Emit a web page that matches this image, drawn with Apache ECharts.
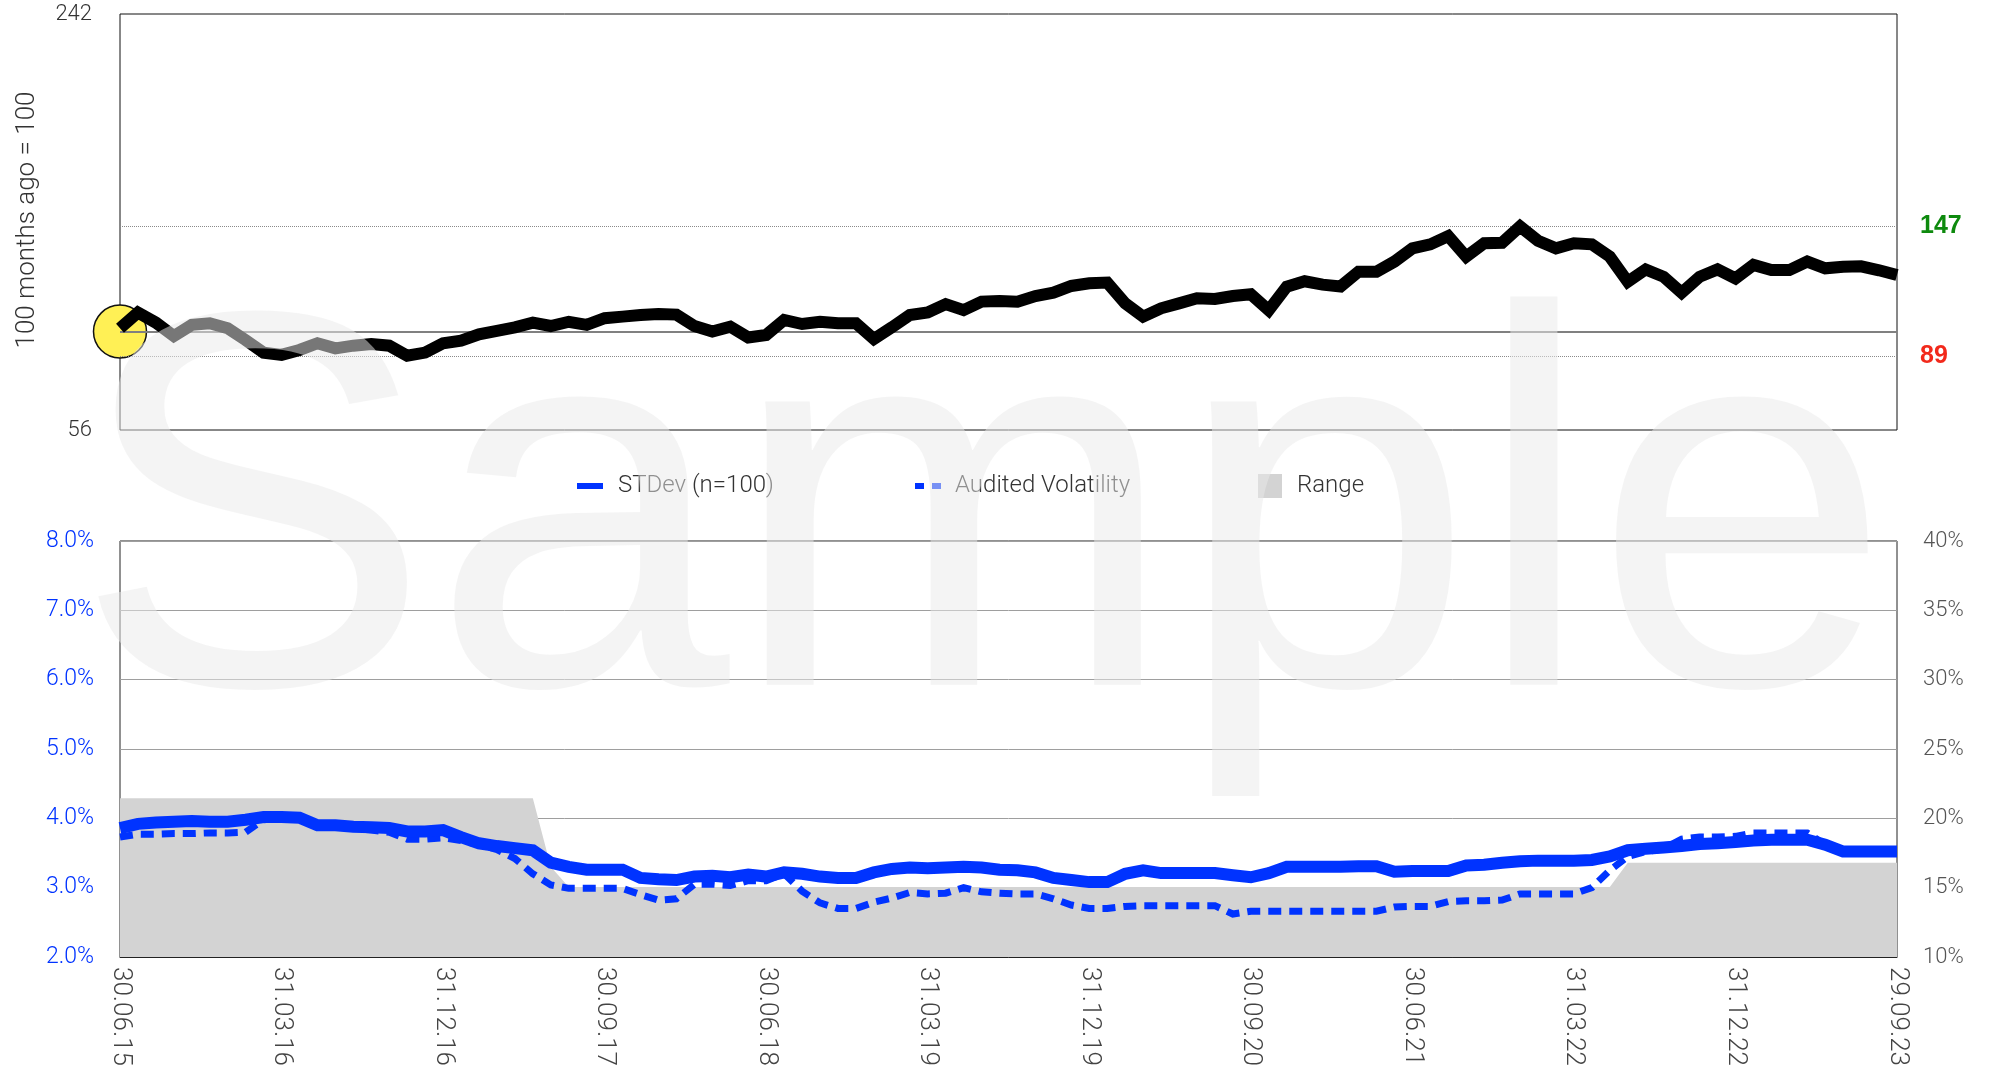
<!DOCTYPE html>
<html>
<head>
<meta charset="utf-8">
<script src="https://cdn.jsdelivr.net/npm/echarts@6/dist/echarts.min.js"></script>
<style>
html,body{margin:0;padding:0;background:#fff;}
#chart{width:1989px;height:1078px;}
</style>
</head>
<body>
<div id="chart"></div>
<script>
const categories = [
"30.06.15","31.07.15","31.08.15","30.09.15","31.10.15","30.11.15","31.12.15",
"31.01.16","29.02.16","31.03.16","30.04.16","31.05.16","30.06.16","31.07.16","31.08.16","30.09.16","31.10.16","30.11.16","31.12.16",
"31.01.17","28.02.17","31.03.17","30.04.17","31.05.17","30.06.17","31.07.17","31.08.17","30.09.17","31.10.17","30.11.17","31.12.17",
"31.01.18","28.02.18","31.03.18","30.04.18","31.05.18","30.06.18","31.07.18","31.08.18","30.09.18","31.10.18","30.11.18","31.12.18",
"31.01.19","28.02.19","31.03.19","30.04.19","31.05.19","30.06.19","31.07.19","31.08.19","30.09.19","31.10.19","30.11.19","31.12.19",
"31.01.20","29.02.20","31.03.20","30.04.20","31.05.20","30.06.20","31.07.20","31.08.20","30.09.20","31.10.20","30.11.20","31.12.20",
"31.01.21","28.02.21","31.03.21","30.04.21","31.05.21","30.06.21","31.07.21","31.08.21","30.09.21","31.10.21","30.11.21","31.12.21",
"31.01.22","28.02.22","31.03.22","30.04.22","31.05.22","30.06.22","31.07.22","31.08.22","30.09.22","31.10.22","30.11.22","31.12.22",
"31.01.23","28.02.23","31.03.23","30.04.23","31.05.23","30.06.23","31.07.23","31.08.23","29.09.23"
];

const indexValues = [
101.5,108.5,104,98,103,103.7,101.5,96.2,90.6,89.6,
91.8,94.8,92.5,93.7,94.4,93.7,89.2,90.6,94.8,95.9,
98.8,100.3,101.9,104,102.5,104.4,103,106,106.7,107.4,
107.9,107.6,102.5,100,102.2,97.4,98.5,105.2,103.4,104.4,
103.7,103.7,96.7,101.9,107.4,108.6,112.3,109.6,113.4,113.7,
113.4,115.9,117.4,120.4,121.6,121.9,112.6,106.7,110.4,112.6,
114.9,114.6,115.9,116.7,109.6,120.1,122.5,121,120.2,126.8,
126.8,131.3,137.2,139,142.7,133.5,139.5,139.7,147,140.6,
137.2,139.5,139,133.5,122.3,127.8,124.5,117.4,124.5,127.8,
123.8,129.8,127.5,127.5,131.3,128.3,129,129.2,127.4,125.3
];

const stdevValues = [
3.86,3.92,3.94,3.95,3.96,3.95,3.95,3.98,4.02,4.02,
4.01,3.9,3.9,3.88,3.87,3.86,3.81,3.81,3.83,3.73,
3.64,3.6,3.57,3.54,3.36,3.3,3.26,3.26,3.26,3.14,
3.12,3.11,3.16,3.17,3.15,3.19,3.16,3.22,3.2,3.16,
3.14,3.14,3.22,3.27,3.29,3.28,3.29,3.3,3.29,3.26,
3.25,3.22,3.14,3.11,3.08,3.08,3.2,3.25,3.21,3.21,
3.21,3.21,3.18,3.15,3.21,3.3,3.3,3.3,3.3,3.31,
3.31,3.23,3.24,3.24,3.24,3.32,3.33,3.36,3.38,3.39,
3.39,3.39,3.4,3.45,3.54,3.56,3.58,3.6,3.63,3.64,
3.66,3.68,3.69,3.69,3.69,3.62,3.52,3.52,3.52,3.52
];

const auditedValues = [
3.73,3.77,3.77,3.78,3.78,3.79,3.79,3.8,3.98,4.0,
4.0,3.88,3.88,3.86,3.83,3.8,3.7,3.7,3.72,3.68,
3.62,3.55,3.42,3.2,3.04,2.99,2.99,2.99,2.99,2.9,
2.82,2.84,3.05,3.05,3.03,3.1,3.1,3.2,2.95,2.78,
2.7,2.7,2.79,2.85,2.93,2.91,2.92,3.0,2.94,2.92,
2.91,2.91,2.84,2.75,2.7,2.7,2.73,2.74,2.74,2.74,
2.74,2.74,2.62,2.66,2.66,2.66,2.66,2.66,2.66,2.66,
2.66,2.72,2.73,2.73,2.8,2.81,2.81,2.82,2.91,2.91,
2.91,2.91,3.0,3.25,3.45,3.52,3.56,3.7,3.73,3.73,
3.74,3.79,3.79,3.79,3.79,3.62,3.52,3.52,3.52,3.52
];

const rangeValues = [
4.29,4.29,4.29,4.29,4.29,4.29,4.29,4.29,4.29,4.29,
4.29,4.29,4.29,4.29,4.29,4.29,4.29,4.29,4.29,4.29,
4.29,4.29,4.29,4.29,3.3,3.01,3.01,3.01,3.01,3.01,
3.01,3.01,3.01,3.01,3.01,3.01,3.01,3.01,3.01,3.01,
3.01,3.01,3.01,3.01,3.01,3.01,3.01,3.01,3.01,3.01,
3.01,3.01,3.01,3.01,3.01,3.01,3.01,3.01,3.01,3.01,
3.01,3.01,3.01,3.01,3.01,3.01,3.01,3.01,3.01,3.01,
3.01,3.01,3.01,3.01,3.01,3.01,3.01,3.01,3.01,3.01,
3.01,3.01,3.01,3.01,3.36,3.36,3.36,3.36,3.36,3.36,
3.36,3.36,3.36,3.36,3.36,3.36,3.36,3.36,3.36,3.36
];

const baseLevel = [100];
const highLowLevels = [147, 89];
const topAxisLabels = [56, 242];
const leftPctRange = [2, 8];
const rightPctRange = [10, 40];
const seriesNames = ["STDev (n=100)", "Audited Volatility", "Range"];

const FONT = 'Roboto, "Liberation Sans", sans-serif';
const BLUE = '#0033ff';

const chart = echarts.init(document.getElementById('chart'), null, {renderer: 'canvas'});

const option = {
  animation: false,
  textStyle: {fontFamily: FONT},
  grid: [
    {left: 120, right: 92, top: 14, bottom: 648, show: true, borderColor: '#111', borderWidth: 1, backgroundColor: 'transparent'},
    {left: 120, right: 92, top: 541, bottom: 121, show: true, borderColor: '#222', borderWidth: 1, backgroundColor: 'transparent'}
  ],
  legend: [
    {left: 572, top: 469, itemWidth: 26, itemHeight: 6, icon: 'rect',
     data: [{name: seriesNames[0], itemStyle: {color: BLUE, borderWidth: 0}}],
     textStyle: {fontSize: 24, color: '#333', fontWeight: 300, fontFamily: FONT, padding: [0, 0, 0, 10]}},
    {left: 910, top: 469, itemWidth: 26, itemHeight: 6,
     icon: 'path://M0,0H9V6H0Z M17,0H26V6H17Z',
     data: [{name: seriesNames[1], itemStyle: {color: BLUE, borderWidth: 0}}],
     textStyle: {fontSize: 24, color: '#333', fontWeight: 300, fontFamily: FONT, padding: [0, 0, 0, 9]}},
    {left: 1253, top: 469, itemWidth: 24, itemHeight: 24, icon: 'rect',
     data: [{name: seriesNames[2], itemStyle: {color: '#d3d3d3', borderWidth: 0}}],
     textStyle: {fontSize: 24, color: '#333', fontWeight: 300, fontFamily: FONT, padding: [0, 0, 0, 10]}}
  ],
  xAxis: [
    {type: 'category', gridIndex: 0, data: categories, boundaryGap: false,
     axisLine: {show: false}, axisTick: {show: false}, axisLabel: {show: false}, splitLine: {show: false}},
    {type: 'category', gridIndex: 1, data: categories, boundaryGap: false,
     axisLine: {show: true, lineStyle: {color: '#222', width: 1}}, axisTick: {show: false},
     axisLabel: {interval: 8, rotate: -90, margin: 10, fontSize: 26, color: '#444', fontWeight: 300, fontFamily: FONT},
     splitLine: {show: false}}
  ],
  yAxis: [
    {type: 'value', gridIndex: 0, min: topAxisLabels[0], max: topAxisLabels[1], interval: topAxisLabels[1] - topAxisLabels[0],
     axisLine: {show: false}, axisTick: {show: false}, splitLine: {show: false},
     axisLabel: {customValues: topAxisLabels, margin: 28, fontSize: 22, color: '#333', fontWeight: 300, fontFamily: FONT}},
    {type: 'value', gridIndex: 1, position: 'left', min: leftPctRange[0], max: leftPctRange[1], interval: 1,
     axisLine: {show: false}, axisTick: {show: false},
     splitLine: {show: true, lineStyle: {color: '#9e9e9e', width: 1}},
     axisLabel: {margin: 26, fontSize: 23, color: BLUE, fontWeight: 300, fontFamily: FONT,
       formatter: v => v.toFixed(1) + '%'}},
    {type: 'value', gridIndex: 1, position: 'right', min: rightPctRange[0], max: rightPctRange[1], interval: 5,
     axisLine: {show: false}, axisTick: {show: false}, splitLine: {show: false},
     axisLabel: {margin: 26, fontSize: 22, color: '#555', fontWeight: 300, fontFamily: FONT,
       formatter: v => v + '%'}}
  ],
  series: [
    {type: 'scatter', name: 'start', xAxisIndex: 0, yAxisIndex: 0, data: [[0, baseLevel[0]]],
     symbolSize: 53, clip: false, z: 1, silent: true,
     itemStyle: {color: '#fff055', borderColor: '#111', borderWidth: 1.5, opacity: 1}},
    {type: 'line', name: 'Index', xAxisIndex: 0, yAxisIndex: 0, data: indexValues,
     symbol: 'none', z: 3, silent: true,
     lineStyle: {color: '#000', width: 12, join: 'miter', miterLimit: 10, cap: 'butt'},
     markLine: {
       silent: true, symbol: 'none', z: 2,
       data: [
         {yAxis: baseLevel[0], lineStyle: {color: '#808080', width: 2, type: 'solid'}, label: {show: false}},
         {yAxis: highLowLevels[0], lineStyle: {color: '#8a8a8a', width: 1, type: 'dotted'},
          label: {show: true, position: 'end', distance: 23, formatter: '{c}', color: '#0e8a0e', fontSize: 25, fontWeight: 'bold', fontFamily: '"Liberation Sans", Roboto, sans-serif'}},
         {yAxis: highLowLevels[1], lineStyle: {color: '#8a8a8a', width: 1, type: 'dotted'},
          label: {show: true, position: 'end', distance: 23, formatter: '{c}', color: '#f2291b', fontSize: 25, fontWeight: 'bold', fontFamily: '"Liberation Sans", Roboto, sans-serif'}}
       ]
     }},
    {type: 'line', name: seriesNames[2], xAxisIndex: 1, yAxisIndex: 1, data: rangeValues,
     symbol: 'none', z: 1, silent: true, color: '#d3d3d3',
     lineStyle: {width: 0, color: '#d3d3d3'},
     areaStyle: {color: '#d3d3d3', opacity: 1}},
    {type: 'line', name: seriesNames[1], xAxisIndex: 1, yAxisIndex: 1, data: auditedValues,
     symbol: 'none', z: 2, silent: true, color: BLUE,
     lineStyle: {color: BLUE, width: 7, type: [13, 8], join: 'miter', cap: 'butt'}},
    {type: 'line', name: seriesNames[0], xAxisIndex: 1, yAxisIndex: 1, data: stdevValues,
     symbol: 'none', z: 3, silent: true, color: BLUE,
     lineStyle: {color: BLUE, width: 12, join: 'miter', cap: 'butt'}}
  ],
  graphic: [
    {type: 'text', x: 27, y: 220, rotation: Math.PI / 2, z: 10, silent: true,
     style: {text: '100 months ago = 100', fontSize: 26, fontWeight: 300, fontFamily: FONT, fill: '#333', align: 'center', verticalAlign: 'middle'}},
    {type: 'text', x: 74, y: 537, z: 100, silent: true,
     style: {text: 'Sample', fontSize: 536, fontFamily: '"Liberation Sans", Arial, sans-serif', fontWeight: 'normal',
       fill: 'rgba(233,233,233,0.51)', align: 'left', verticalAlign: 'middle'}}
  ]
};

chart.setOption(option);
</script>
</body>
</html>
